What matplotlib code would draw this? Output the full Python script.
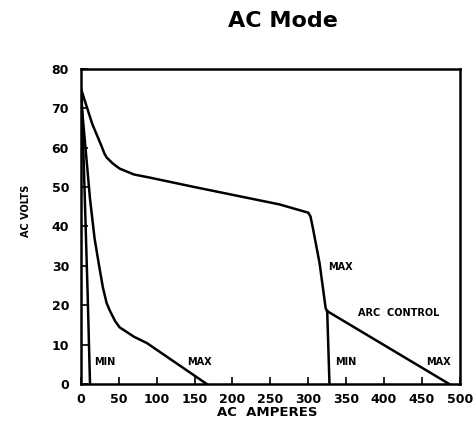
import matplotlib
matplotlib.use("Agg")
import matplotlib.pyplot as plt

# upper curve (MAX output) and arc control branch
max_amps = [0, 5, 15, 27, 31, 34, 42, 51, 70, 91, 150, 262, 300, 303, 306, 315, 323, 325]
max_volts = [75, 72, 66, 60.5, 58.5, 57.5, 56, 54.7, 53.2, 52.4, 50, 45.6, 43.5, 42.5, 39.7, 30.6, 19.2, 18.5]
arc_amps = [325, 486]
arc_volts = [18.5, 0]
min_hi_amps = [325, 328]
min_hi_volts = [18.5, 0]

# lower curve (MIN output)
low_max_amps = [0, 6, 12, 18, 24, 29, 34, 38, 45, 51, 70, 87, 166]
low_max_volts = [73, 60, 47, 37, 30, 24.5, 20.5, 18.7, 16, 14.4, 12, 10.4, 0]
low_min_amps = [1, 5, 9, 12]
low_min_volts = [73, 48, 22, 0]

x_ticks = list(range(0, 501, 50))
y_ticks = list(range(0, 81, 10))

labels = [
    ("MIN", 18, 5.6),
    ("MAX", 140, 5.6),
    ("MAX", 326, 29.6),
    ("ARC  CONTROL", 365, 18),
    ("MIN", 335, 5.6),
    ("MAX", 456, 5.6),
]

plt.rcParams["font.family"] = ["DejaVu Sans"]

fig = plt.figure(figsize=(4.76, 4.34), dpi=100)
ax = fig.add_axes([0.170, 0.1152, 0.796, 0.726])

lw = 1.8
ax.plot(max_amps, max_volts, color="black", lw=lw, solid_joinstyle="round")
ax.plot(arc_amps, arc_volts, color="black", lw=lw)
ax.plot(min_hi_amps, min_hi_volts, color="black", lw=lw)
ax.plot(low_max_amps, low_max_volts, color="black", lw=lw, solid_joinstyle="round")
ax.plot(low_min_amps, low_min_volts, color="black", lw=lw)

for txt, x, y in labels:
    ax.text(x, y, txt, fontsize=7, fontweight="bold", ha="left", va="center")

ax.set_xlim(0, 500)
ax.set_ylim(0, 80)
ax.set_xticks(x_ticks)
ax.set_yticks(y_ticks)
ax.tick_params(direction="in", length=5, width=1.2, labelsize=9)
ax.tick_params(axis="y", pad=8.5)
ax.tick_params(axis="x", pad=6.5)
for lab in ax.get_xticklabels() + ax.get_yticklabels():
    lab.set_fontweight("bold")
for s in ax.spines.values():
    s.set_linewidth(1.8)

fig.text(0.562, 1 - 412 / 434, "AC  AMPERES", fontsize=9.5, fontweight="bold",
         ha="center", va="center")
fig.text(26 / 476, 1 - 211 / 434, "AC VOLTS", fontsize=7, fontweight="bold",
         ha="center", va="center", rotation=90)
fig.text(282.5 / 476, 1 - 21 / 434, "AC Mode", fontsize=16, fontweight="bold",
         ha="center", va="center")

fig.savefig("out.png", dpi=100)
